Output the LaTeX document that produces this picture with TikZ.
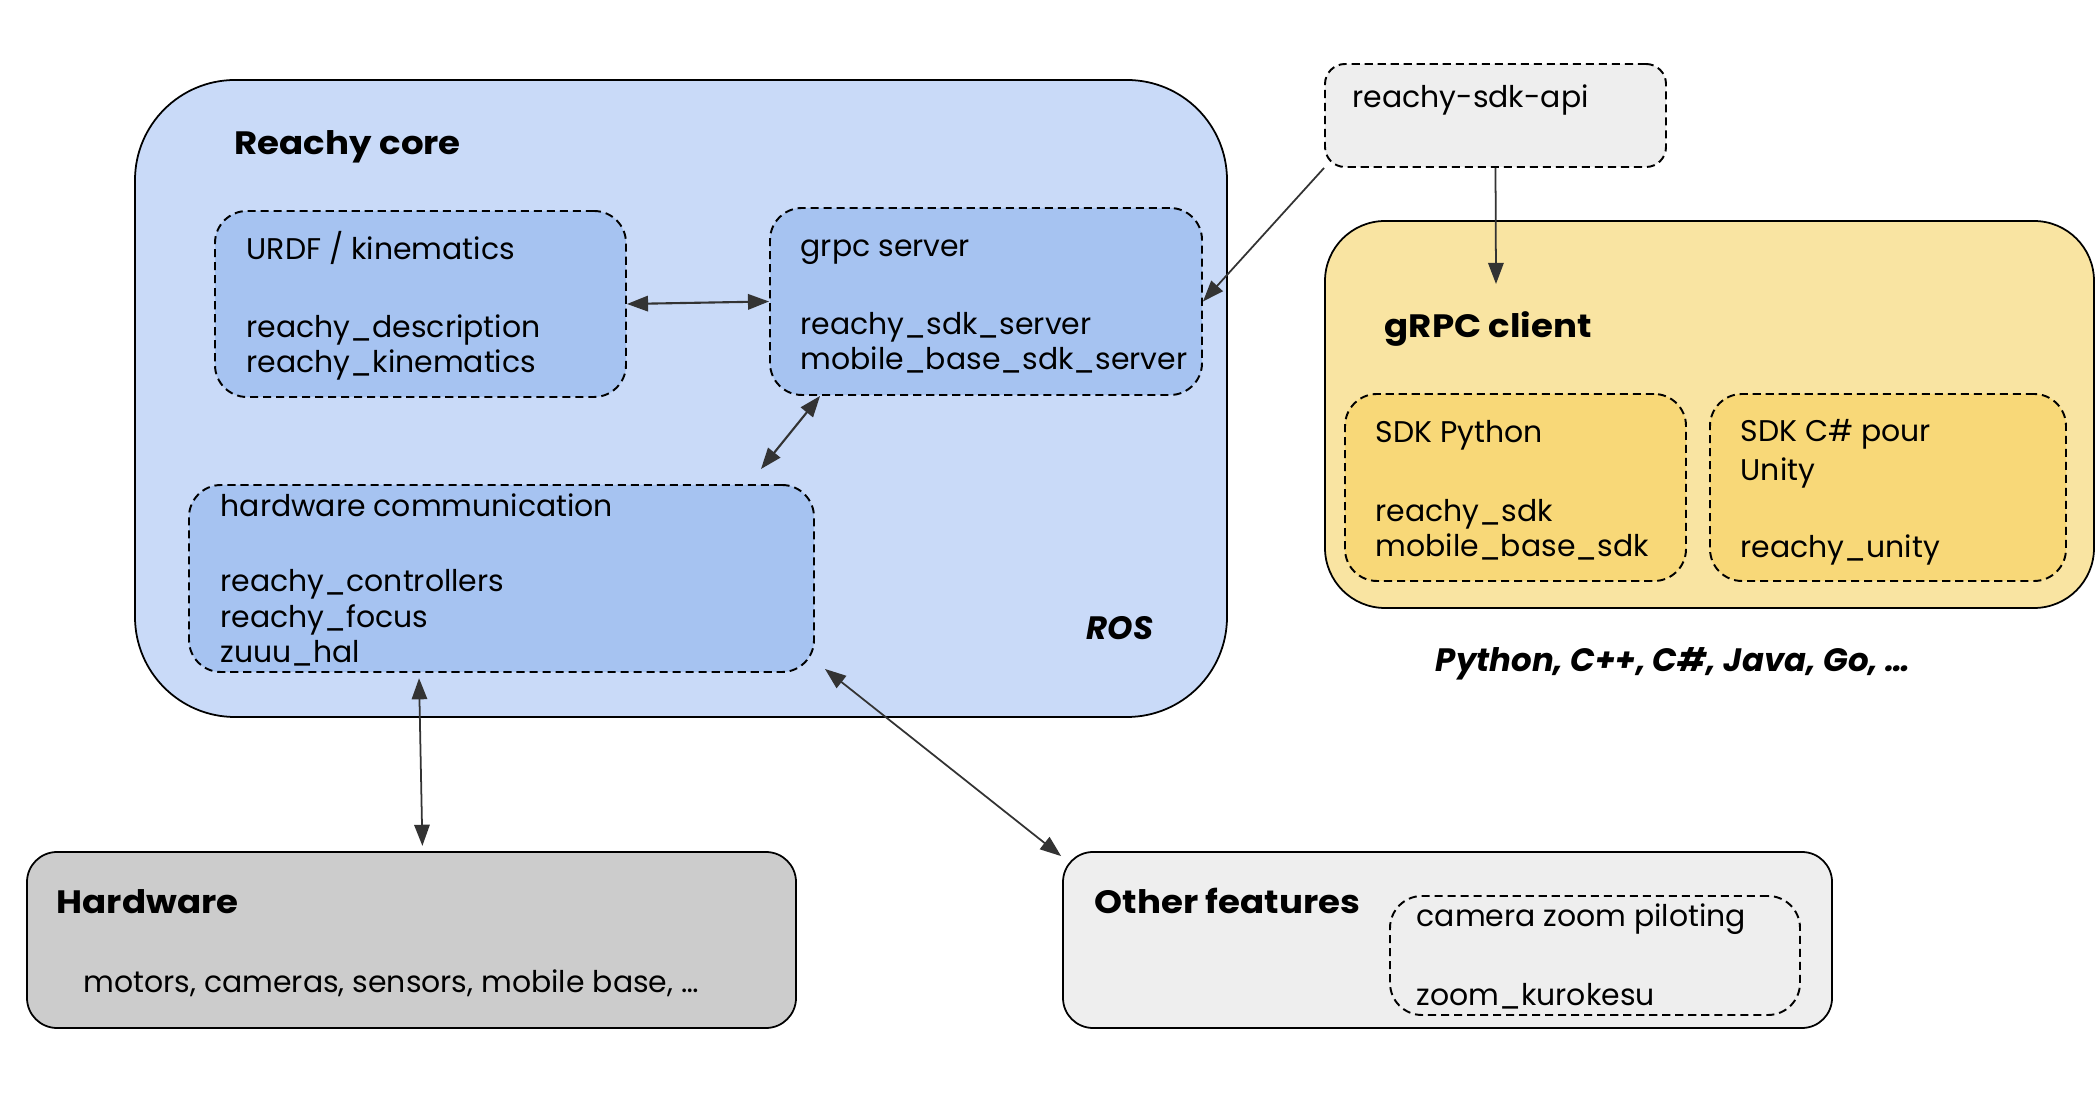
\documentclass[tikz,border=0pt]{standalone}
\usepackage{fontspec}
\setmainfont{Poppins}[BoldFeatures={FakeStretch=1.1}]
\usetikzlibrary{arrows.meta,positioning,fit,calc}

\definecolor{coreblue}{RGB}{201,218,248}
\definecolor{modblue}{RGB}{166,195,241}
\definecolor{clientyel}{RGB}{249,228,162}
\definecolor{sdkyel}{RGB}{248,216,120}
\definecolor{hwgray}{RGB}{204,204,204}
\definecolor{featgray}{RGB}{238,238,238}
\definecolor{arrowgray}{RGB}{51,51,51}

\newcommand{\mainfs}{\fontsize{8.5}{10.1}\selectfont}
\newcommand{\headfs}{\fontsize{9.2}{11}\selectfont\bfseries}

\tikzset{
  >={Triangle[length=6pt, width=4.4pt]},
  box/.style={draw=black, line width=0.5pt, rounded corners=#1, inner sep=0pt},
  dbox/.style={draw=black, line width=0.55pt, dash pattern=on 2.3pt off 1.4pt, rounded corners=0.32cm, inner sep=0pt},
  txt/.style={anchor=base west, inner sep=0pt, align=left, font=\mainfs},
  ttl/.style={txt, font=\headfs},
  link/.style={->, draw=arrowgray, line width=0.5pt},
  both/.style={<->, draw=arrowgray, line width=0.6pt}
}

\begin{document}
\begin{tikzpicture}[x=0.01cm, y=-0.01cm]
  % Fixed bounding box
  \path[use as bounding box] (0,0) rectangle (2100,1098);

  % Reachy core (ROS)
  \node[box=1cm, fill=coreblue, fit={(135,80) (1227,717)}] (core) {};
  \node[ttl] (coretitle) at (234,155) {Reachy core};
  \node[txt, font=\fontsize{9.2}{11}\selectfont\bfseries\itshape] (ros) at (1086,640) {ROS};

  % URDF / kinematics
  \node[dbox, fill=modblue, fit={(215,211) (626,397)}] (urdf) {};
  \node[txt] (urdftitle) at (246,260) {URDF / kinematics};
  \node[txt] (urdfpkg) at (246,373) {reachy\_description\\reachy\_kinematics};

  % grpc server
  \node[dbox, fill=modblue, fit={(770,208) (1202,395)}] (grpc) {};
  \node[txt] (grpctitle) at (800,257) {grpc server};
  \node[txt] (grpcpkg) at (800,370) {reachy\_sdk\_server\\mobile\_base\_sdk\_server};

  % hardware communication
  \node[dbox, fill=modblue, fit={(189,485) (814,672)}] (hwcomm) {};
  \node[txt] (hwcommtitle) at (220,517) {hardware communication};
  \node[txt] (hwcommpkg) at (220,663) {reachy\_controllers\\reachy\_focus\\zuuu\_hal};

  % reachy-sdk-api
  \node[dbox, rounded corners=0.2cm, fill=featgray, fit={(1325,64) (1666,167)}] (api) {};
  \node[txt] (apititle) at (1352,108) {reachy-sdk-api};

  % gRPC client
  \node[box=0.6cm, fill=clientyel, fit={(1325,221) (2094,608)}] (client) {};
  \node[ttl] (clienttitle) at (1384,338) {gRPC client};
  \node[dbox, fill=sdkyel, fit={(1345,394) (1686,581)}] (sdkpy) {};
  \node[txt] (sdkpytitle) at (1375,443) {SDK Python};
  \node[txt] (sdkpypkg) at (1375,557) {reachy\_sdk\\mobile\_base\_sdk};
  \node[dbox, fill=sdkyel, fit={(1710,394) (2066,581)}] (sdkcs) {};
  \node[txt] (sdkcstitle) at (1740,481) {SDK C\# pour\\[1pt]Unity};
  \node[txt] (sdkcspkg) at (1740,558) {reachy\_unity};
  \node[txt, anchor=base, font=\fontsize{9.2}{11}\selectfont\bfseries\itshape] (langs) at (1673,672) {Python, C++, C\#, Java, Go, \ldots};

  % Hardware
  \node[box=0.3cm, fill=hwgray, fit={(27,852) (796,1028)}] (hw) {};
  \node[ttl] (hwtitle) at (56,913) {Hardware};
  \node[txt] (hwlist) at (83,992) {motors, cameras, sensors, mobile base, \ldots};

  % Other features
  \node[box=0.3cm, fill=featgray, fit={(1063,852) (1832,1028)}] (other) {};
  \node[ttl] (othertitle) at (1094,913) {Other features};
  \node[dbox, fill=featgray, fit={(1390,896) (1800,1015)}] (zoom) {};
  \node[txt] (zoomtitle) at (1416,927) {camera zoom piloting};
  \node[txt] (zoompkg) at (1416,1005) {zoom\_kurokesu};

  % Links
  \coordinate (gh) at (761,469);
  \coordinate (ac) at (1496,284);
  \draw[both] (urdf.east) -- (grpc.west);
  \draw[both] ([xshift=0.51cm]grpc.south west) -- (gh);
  \draw[link] (api.south west) -- (grpc.east);
  \draw[link] (api.south) -- (ac);
  \draw[both, line width=0.5pt, shorten <=1.5pt, shorten >=1.5pt] ([xshift=-0.825cm]hwcomm.south) -- ([xshift=0.11cm]hw.north);
  \draw[both, line width=0.5pt] ([shift={(0.1cm,0.04cm)}]hwcomm.south east) -- ([shift={(-0.01cm,-0.05cm)}]other.north west);
\end{tikzpicture}
\end{document}
